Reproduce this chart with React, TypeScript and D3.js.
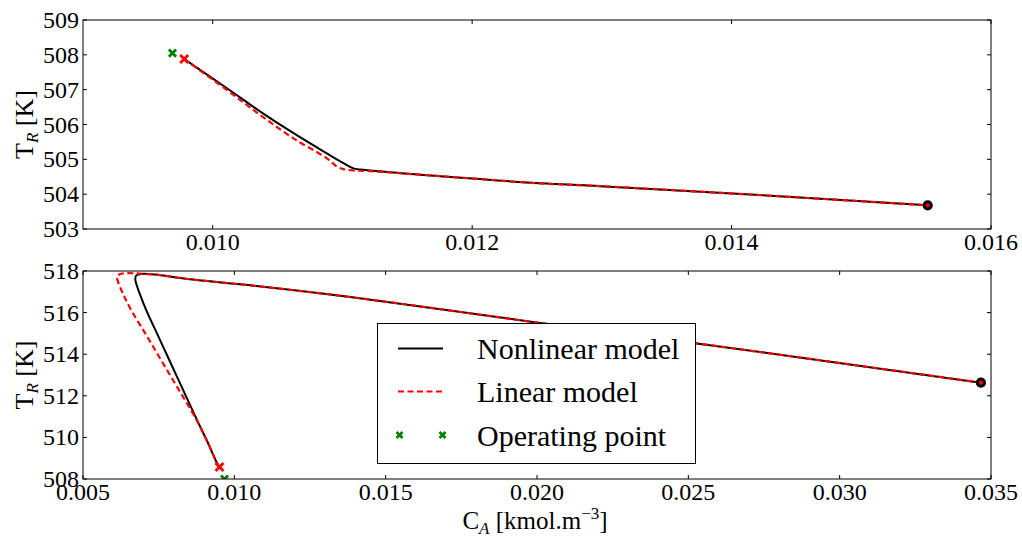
import React from 'react';
import * as d3 from 'd3';

type Pt = [number, number];

const W = 1022;
const H = 538;
const FONT = "'Liberation Serif', 'Times New Roman', serif";

// ---- Upper panel: trajectory in the (C_A, T_R) plane ----
const topNonlinear: Pt[] = [
  [0.00978, 507.88], [0.01011, 507.04], [0.010367, 506.37], [0.010623, 505.75],
  [0.01088, 505.17], [0.011008, 504.89], [0.011085, 504.74], [0.011137, 504.71],
  [0.0116, 504.56], [0.012, 504.45], [0.012525, 504.31], [0.012987, 504.23],
  [0.014143, 503.99], [0.015512, 503.68],
];
const topLinear: Pt[] = [
  [0.00978, 507.88], [0.01011, 506.99], [0.010367, 506.27], [0.010623, 505.6],
  [0.01088, 505.03], [0.010958, 504.79], [0.011007, 504.72], [0.011086, 504.68],
  [0.011214, 504.66], [0.0116, 504.56], [0.012, 504.45], [0.012525, 504.31],
  [0.012987, 504.23], [0.014143, 503.99], [0.015512, 503.68],
];
const topStart: Pt = [0.00978, 507.88];
const topOperating: Pt = [0.00969, 508.05];
const topEnd: Pt = [0.015512, 503.68];
const topXDomain: Pt = [0.009, 0.016];
const topYDomain: Pt = [503, 509];
const topXTicks = [0.01, 0.012, 0.014, 0.016];
const topYTicks = [503, 504, 505, 506, 507, 508, 509];

// ---- Lower panel ----
const bottomNonlinear: Pt[] = [
  [0.00951, 508.58], [0.009445, 508.72], [0.009095, 509.84], [0.008765, 510.84],
  [0.008435, 511.88], [0.008104, 512.92], [0.007774, 513.96], [0.007444, 515.0],
  [0.007114, 516.03], [0.006892, 516.84], [0.006727, 517.6], [0.00676, 517.79],
  [0.006948, 517.86], [0.007388, 517.83], [0.008322, 517.64], [0.009425, 517.47],
  [0.010195, 517.36], [0.013828, 516.75], [0.020212, 515.48], [0.025277, 514.52],
  [0.034667, 512.63],
];
const bottomLinear: Pt[] = [
  [0.00951, 508.58], [0.009445, 508.72], [0.009095, 509.84], [0.008752, 510.84],
  [0.008336, 511.88], [0.007906, 512.92], [0.007481, 513.96], [0.007057, 515.0],
  [0.006628, 516.03], [0.006341, 516.84], [0.006143, 517.55], [0.006123, 517.71],
  [0.006209, 517.84], [0.006397, 517.89], [0.006671, 517.89], [0.007001, 517.86],
  [0.007388, 517.83], [0.008322, 517.64], [0.009425, 517.47], [0.010195, 517.36],
  [0.013828, 516.75], [0.020212, 515.48], [0.025277, 514.52], [0.034667, 512.63],
];
const bottomStart: Pt = [0.00951, 508.58];
const bottomOperating: Pt = [0.009677, 508.0];
const bottomEnd: Pt = [0.034667, 512.63];
const bottomXDomain: Pt = [0.005, 0.035];
const bottomYDomain: Pt = [508, 518];
const bottomXTicks = [0.005, 0.01, 0.015, 0.02, 0.025, 0.03, 0.035];
const bottomYTicks = [508, 510, 512, 514, 516, 518];

const legendLabels = ['Nonlinear model', 'Linear model', 'Operating point'];

const LEFT = 83;
const RIGHT = 991;
const TICK = 4;

function Cross({ x, y, s, color, w }: { x: number; y: number; s: number; color: string; w: number }) {
  return (
    <g stroke={color} strokeWidth={w} strokeLinecap="butt">
      <line x1={x - s} y1={y - s} x2={x + s} y2={y + s} />
      <line x1={x - s} y1={y + s} x2={x + s} y2={y - s} />
    </g>
  );
}

interface PanelProps {
  id: string;
  top: number;
  bottom: number;
  xDomain: Pt;
  yDomain: Pt;
  xTicks: number[];
  yTicks: number[];
  nonlinear: Pt[];
  linear: Pt[];
  start: Pt;
  operating: Pt;
  end: Pt;
}

function Panel(p: PanelProps) {
  const x = d3.scaleLinear().domain(p.xDomain).range([LEFT, RIGHT]);
  const y = d3.scaleLinear().domain(p.yDomain).range([p.bottom, p.top]);
  const line = d3
    .line<Pt>()
    .x((d) => x(d[0]))
    .y((d) => y(d[1]))
    .curve(d3.curveCatmullRom.alpha(0.5));
  const fx = d3.format('.3f');
  const clipId = `clip-${p.id}`;
  return (
    <g>
      <defs>
        <clipPath id={clipId}>
          <rect x={LEFT} y={p.top} width={RIGHT - LEFT} height={p.bottom - p.top} />
        </clipPath>
      </defs>
      <g clipPath={`url(#${clipId})`}>
        <path d={line(p.nonlinear) || ''} fill="none" stroke="#000" strokeWidth={2} />
        <path d={line(p.linear) || ''} fill="none" stroke="#ff0000" strokeWidth={2.2} strokeDasharray="6,3.5" />
        <Cross x={x(p.operating[0])} y={y(p.operating[1])} s={3.6} color="#008000" w={2.8} />
        <Cross x={x(p.start[0])} y={y(p.start[1])} s={4} color="#ff0000" w={2.8} />
        <circle cx={x(p.end[0])} cy={y(p.end[1])} r={3.6} fill="#ff0000" stroke="#000" strokeWidth={3} />
      </g>
      <rect x={LEFT} y={p.top} width={RIGHT - LEFT} height={p.bottom - p.top} fill="none" stroke="#000" strokeWidth={1} />
      <g stroke="#000" strokeWidth={1}>
        {p.xTicks.map((t) => (
          <g key={`xt${t}`}>
            <line x1={x(t)} x2={x(t)} y1={p.bottom} y2={p.bottom - TICK} />
            <line x1={x(t)} x2={x(t)} y1={p.top} y2={p.top + TICK} />
          </g>
        ))}
        {p.yTicks.map((t) => (
          <g key={`yt${t}`}>
            <line x1={LEFT} x2={LEFT + TICK} y1={y(t)} y2={y(t)} />
            <line x1={RIGHT} x2={RIGHT - TICK} y1={y(t)} y2={y(t)} />
          </g>
        ))}
      </g>
      <g style={{ fontFamily: FONT }} fontSize={24} fill="#000">
        {p.xTicks.map((t) => (
          <text key={`xl${t}`} x={x(t)} y={p.bottom + 21} textAnchor="middle">
            {fx(t)}
          </text>
        ))}
        {p.yTicks.map((t) => (
          <text key={`yl${t}`} x={LEFT - 4} y={y(t) + 8} textAnchor="end">
            {t}
          </text>
        ))}
      </g>
      <text
        transform={`translate(33, ${(p.top + p.bottom) / 2}) rotate(-90)`}
        textAnchor="middle"
        style={{ fontFamily: FONT }}
        fontSize={26}
      >
        T<tspan dy={5} fontSize={17} fontStyle="italic">R</tspan>
        <tspan dy={-5}> [K]</tspan>
      </text>
    </g>
  );
}

function Legend() {
  const x0 = 377.5;
  const y0 = 323.5;
  const w = 318;
  const h = 140;
  const rows = [348.5, 391.5, 435];
  return (
    <g>
      <rect x={x0} y={y0} width={w} height={h} fill="#fff" stroke="#000" strokeWidth={1} />
      <line x1={398} x2={443} y1={rows[0]} y2={rows[0]} stroke="#000" strokeWidth={2} />
      <line x1={398} x2={443} y1={rows[1]} y2={rows[1]} stroke="#ff0000" strokeWidth={2.2} strokeDasharray="6,3.5" />
      <Cross x={399.5} y={rows[2]} s={3} color="#008000" w={2.6} />
      <Cross x={442.5} y={rows[2]} s={3} color="#008000" w={2.6} />
      <g style={{ fontFamily: FONT }} fontSize={30} fill="#000">
        {legendLabels.map((l, i) => (
          <text key={l} x={477} y={rows[i] + 10.5}>
            {l}
          </text>
        ))}
      </g>
    </g>
  );
}

export default function App() {
  return (
    <svg
      width={W}
      height={H}
      viewBox={`0 0 ${W} ${H}`}
      style={{ position: 'absolute', left: 0, top: 0, background: '#fff' }}
    >
      <rect x={0} y={0} width={W} height={H} fill="#fff" />
      <Panel
        id="top"
        top={20}
        bottom={229}
        xDomain={topXDomain}
        yDomain={topYDomain}
        xTicks={topXTicks}
        yTicks={topYTicks}
        nonlinear={topNonlinear}
        linear={topLinear}
        start={topStart}
        operating={topOperating}
        end={topEnd}
      />
      <Panel
        id="bottom"
        top={271}
        bottom={479}
        xDomain={bottomXDomain}
        yDomain={bottomYDomain}
        xTicks={bottomXTicks}
        yTicks={bottomYTicks}
        nonlinear={bottomNonlinear}
        linear={bottomLinear}
        start={bottomStart}
        operating={bottomOperating}
        end={bottomEnd}
      />
      <Legend />
      <text x={535} y={529} textAnchor="middle" style={{ fontFamily: FONT }} fontSize={25}>
        C<tspan dy={5} fontSize={17} fontStyle="italic">A</tspan>
        <tspan dy={-5}> [kmol.m</tspan>
        <tspan dy={-10} fontSize={17}>−3</tspan>
        <tspan dy={10}>]</tspan>
      </text>
    </svg>
  );
}
